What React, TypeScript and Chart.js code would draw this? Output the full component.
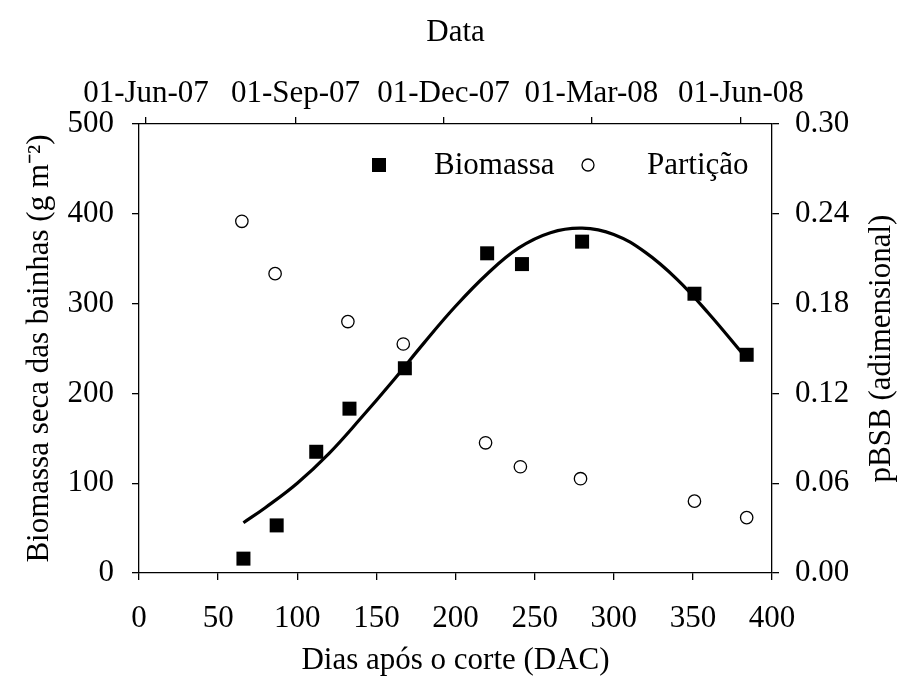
import { useEffect, useRef } from 'react';
import { Chart, registerables } from 'chart.js';

Chart.register(...registerables);

const FONT = "'Liberation Serif', 'Times New Roman', Times, serif";

// Biomassa (left axis, g m-2)
const biomassDays = [66, 87, 112, 133, 168, 220, 242, 280, 351, 384];
const biomassValues = [16, 53, 135, 183, 228, 356, 344, 369, 311, 243];

// Partição (right axis, adimensional)
const partitionDays = [65, 86, 132, 167, 219, 241, 279, 351, 384];
const partitionValues = [0.235, 0.2, 0.168, 0.153, 0.087, 0.071, 0.063, 0.048, 0.037];

// Fitted curve
const fitDays = [66, 80, 100, 120, 140, 160, 180, 200, 220, 240, 260, 280, 300, 320, 340, 360, 382];
const fitValues = [56, 73, 100, 133, 172, 213, 256, 297, 333, 362, 379, 384, 377, 357, 327, 289, 243];

// Axes
const xTicks = [0, 50, 100, 150, 200, 250, 300, 350, 400];
const leftTicks = [0, 100, 200, 300, 400, 500];
const rightTicks = [0, 0.06, 0.12, 0.18, 0.24, 0.3];
// top date axis: days since 01-Jun-07
const dateTickDays = [0, 92, 183, 274, 366];
const dateTickLabels = ['01-Jun-07', '01-Sep-07', '01-Dec-07', '01-Mar-08', '01-Jun-08'];
const dateMin = -4.3;
const dateMax = 385.1;

const legendLabels = ['Biomassa', 'Partição'];
const xTitle = 'Dias após o corte (DAC)';
const topTitle = 'Data';
const leftTitle = 'Biomassa seca das bainhas (g m⁻²)';
const rightTitle = 'pBSB (adimensional)';

const toPoints = (xs: number[], ys: number[]) => xs.map((x, i) => ({ x, y: ys[i] }));

const axisCommon = (fontSize: number) => ({
  grid: {
    display: true,
    drawOnChartArea: false,
    drawTicks: true,
    tickLength: 7,
    color: '#000',
    lineWidth: 1.3,
  },
  border: { display: true, color: '#000', width: 1.3 },
  ticks: {
    color: '#000',
    font: { family: FONT, size: fontSize },
  },
});

const insidePlugin = {
  id: 'insideLegendAndRightTitle',
  afterDraw(chart: any) {
    const ctx = chart.ctx as CanvasRenderingContext2D;
    const ca = chart.chartArea;
    ctx.save();
    ctx.fillStyle = '#000';
    ctx.strokeStyle = '#000';
    ctx.font = `31px ${FONT}`;
    ctx.textBaseline = 'middle';
    ctx.textAlign = 'left';
    const y = ca.top + 41;
    // Biomassa marker
    const sx = ca.left + 240;
    ctx.fillRect(sx - 7, y - 7, 14, 14);
    ctx.fillText(legendLabels[0], ca.left + 295, y + 1);
    // Partição marker
    const cx = ca.left + 449;
    ctx.beginPath();
    ctx.arc(cx, y, 6, 0, Math.PI * 2);
    ctx.fillStyle = '#fff';
    ctx.fill();
    ctx.lineWidth = 1.3;
    ctx.stroke();
    ctx.fillStyle = '#000';
    ctx.fillText(legendLabels[1], ca.left + 508, y + 1);

    // right axis title, reading bottom to top
    ctx.translate(882, (ca.top + ca.bottom) / 2);
    ctx.rotate(-Math.PI / 2);
    ctx.textAlign = 'center';
    ctx.fillText(rightTitle, 0, 0);
    ctx.restore();
  },
};

export default function App() {
  const ref = useRef<HTMLCanvasElement>(null);

  useEffect(() => {
    document.body.style.margin = '0';
    const canvas = ref.current;
    if (!canvas) return;
    const chart = new Chart(canvas, {
      type: 'scatter',
      data: {
        datasets: [
          {
            type: 'line',
            label: 'fit',
            data: toPoints(fitDays, fitValues),
            xAxisID: 'x',
            yAxisID: 'y',
            borderColor: '#000',
            borderWidth: 3.2,
            pointRadius: 0,
            tension: 0.4,
            fill: false,
            order: 3,
          } as any,
          {
            label: legendLabels[0],
            data: toPoints(biomassDays, biomassValues),
            xAxisID: 'x',
            yAxisID: 'y',
            pointStyle: 'rect',
            pointRadius: 9.9,
            backgroundColor: '#000',
            borderColor: '#000',
            borderWidth: 0,
            order: 1,
          },
          {
            label: legendLabels[1],
            data: toPoints(partitionDays, partitionValues),
            xAxisID: 'x',
            yAxisID: 'y2',
            pointStyle: 'circle',
            pointRadius: 6.2,
            backgroundColor: '#fff',
            borderColor: '#000',
            borderWidth: 1.3,
            order: 2,
          },
        ],
      },
      options: {
        responsive: false,
        animation: false,
        layout: { padding: 0 },
        plugins: {
          legend: { display: false },
          tooltip: { enabled: false },
        },
        scales: {
          x: {
            type: 'linear',
            position: 'bottom',
            min: 0,
            max: 400,
            ...axisCommon(31),
            ticks: {
              color: '#000',
              font: { family: FONT, size: 31 },
              padding: 20,
              maxRotation: 0,
              autoSkip: false,
            },
            afterBuildTicks: (s: any) => {
              s.ticks = xTicks.map((v) => ({ value: v }));
            },
            afterFit: (s: any) => {
              s.height = 113;
            },
            title: {
              display: true,
              text: xTitle,
              color: '#000',
              font: { family: FONT, size: 31 },
              padding: { top: 0, bottom: 7 },
            },
          },
          xTop: {
            type: 'linear',
            position: 'top',
            min: dateMin,
            max: dateMax,
            ...axisCommon(31),
            ticks: {
              color: '#000',
              font: { family: FONT, size: 31 },
              padding: 5,
              maxRotation: 0,
              autoSkip: false,
              callback: (v: any) => {
                const i = dateTickDays.indexOf(Number(v));
                return i >= 0 ? dateTickLabels[i] : '';
              },
            },
            afterBuildTicks: (s: any) => {
              s.ticks = dateTickDays.map((v) => ({ value: v }));
            },
            afterFit: (s: any) => {
              s.height = 124;
            },
            title: {
              display: true,
              text: topTitle,
              color: '#000',
              font: { family: FONT, size: 31 },
              padding: { top: 14, bottom: 0 },
            },
          },
          y: {
            type: 'linear',
            position: 'left',
            min: 0,
            max: 500,
            ...axisCommon(31),
            ticks: {
              color: '#000',
              font: { family: FONT, size: 31 },
              padding: 18,
            },
            afterBuildTicks: (s: any) => {
              s.ticks = leftTicks.map((v) => ({ value: v }));
            },
            afterFit: (s: any) => {
              s.width = 139;
            },
            title: {
              display: true,
              text: leftTitle,
              color: '#000',
              font: { family: FONT, size: 31 },
              padding: { top: 21, bottom: 0 },
            },
          },
          y2: {
            type: 'linear',
            position: 'right',
            min: 0,
            max: 0.3,
            ...axisCommon(31),
            ticks: {
              color: '#000',
              font: { family: FONT, size: 31 },
              padding: 16,
              callback: (v: any) => Number(v).toFixed(2),
            },
            afterBuildTicks: (s: any) => {
              s.ticks = rightTicks.map((v) => ({ value: v }));
            },
            afterFit: (s: any) => {
              s.width = 137;
            },
          },
        },
      },
      plugins: [insidePlugin],
    });
    return () => chart.destroy();
  }, []);

  return <canvas ref={ref} width={909} height={686} style={{ display: 'block' }} />;
}
